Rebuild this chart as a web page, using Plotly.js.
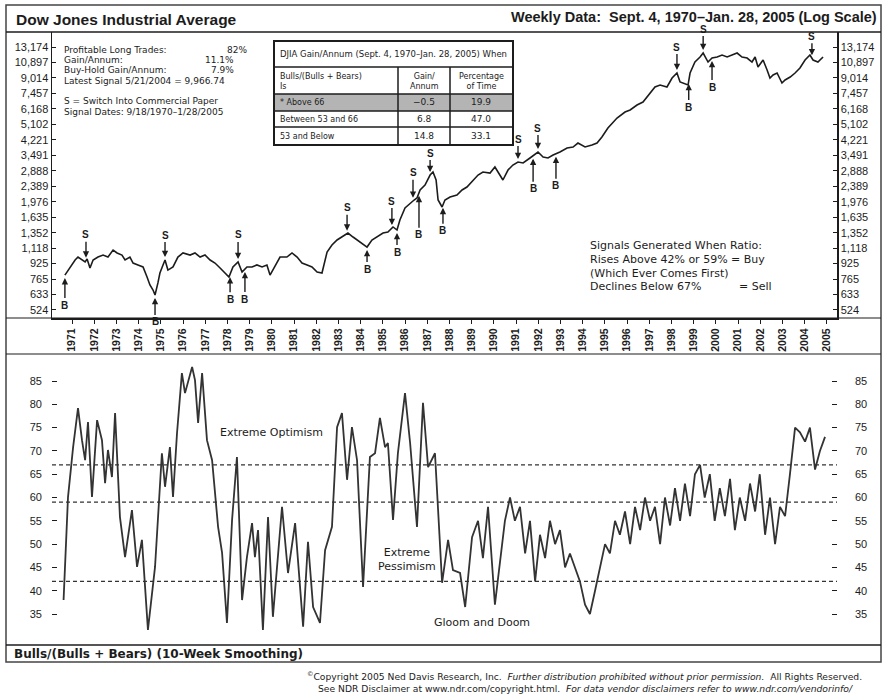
<!DOCTYPE html>
<html><head><meta charset="utf-8">
<script src="https://cdn.plot.ly/plotly-3.0.1.min.js"></script>
<style>html,body{margin:0;padding:0;background:#fff}#chart{width:885px;height:698px}</style>
</head><body><div id="chart"></div>
<script>
// ---------------- DATA ----------------
const djiaYears = [1970.68,1970.91,1971.14,1971.27,1971.45,1971.59,1971.68,1971.81,1971.95,1972.17,1972.40,1972.62,1972.85,1973.03,1973.25,1973.39,1973.61,1973.75,1973.97,1974.20,1974.38,1974.51,1974.65,1974.74,1974.87,1974.96,1975.10,1975.19,1975.32,1975.55,1975.77,1976.00,1976.32,1976.54,1976.77,1976.99,1977.22,1977.44,1977.67,1977.89,1978.07,1978.25,1978.48,1978.66,1978.88,1979.11,1979.33,1979.56,1979.78,1979.92,1980.14,1980.37,1980.68,1980.91,1981.14,1981.36,1981.59,1981.81,1982.04,1982.26,1982.49,1982.71,1982.94,1983.16,1983.43,1983.66,1983.97,1984.29,1984.51,1984.74,1985.01,1985.23,1985.46,1985.64,1985.77,1986.00,1986.23,1986.41,1986.54,1986.68,1986.90,1987.13,1987.26,1987.40,1987.49,1987.67,1987.80,1988.03,1988.34,1988.57,1988.79,1989.06,1989.29,1989.51,1989.83,1990.05,1990.28,1990.41,1990.64,1990.86,1991.09,1991.32,1991.63,1991.81,1991.99,1992.22,1992.44,1992.67,1992.98,1993.30,1993.57,1993.79,1994.11,1994.42,1994.65,1994.87,1995.14,1995.55,1995.91,1996.14,1996.45,1996.72,1997.04,1997.26,1997.49,1997.80,1998.03,1998.25,1998.39,1998.75,1998.84,1999.06,1999.29,1999.43,1999.65,1999.83,2000.06,2000.28,2000.51,2000.73,2000.96,2001.18,2001.41,2001.63,2001.77,2001.90,2002.13,2002.31,2002.44,2002.58,2002.76,2002.98,2003.12,2003.35,2003.57,2003.79,2004.02,2004.24,2004.38,2004.60,2004.83];
const djiaValues = [804,888,967,1003,967,944,979,877,967,1003,1028,1003,1093,1054,1028,967,1003,932,910,888,785,712,669,630,730,825,910,967,855,888,1003,1054,1028,1054,1003,1028,967,932,877,825,785,888,944,835,888,888,910,888,910,804,888,1003,1003,1054,1003,932,910,888,835,825,1067,1162,1236,1282,1346,1282,1206,1134,1236,1282,1346,1363,1450,1397,1579,1830,1945,2018,2068,2282,2426,2742,2845,2579,2018,1852,2018,2094,2146,2282,2367,2579,2742,2845,2810,3025,2742,2579,2915,3099,3216,3177,3378,3504,3636,3420,3378,3504,3636,3819,3866,4059,3866,3961,4059,4369,4880,5513,5937,6084,6469,6712,7495,8066,8265,8066,9007,9577,8577,8265,9577,10960,11652,12239,10960,11510,11652,11942,11652,11942,12239,11652,11510,10960,11652,10308,11233,9936,9007,9346,9577,8472,8790,9120,9577,10183,11233,11942,11233,10960,11652];

const ratioYears = [1970.62,1970.82,1971.05,1971.27,1971.45,1971.59,1971.72,1971.90,1972.13,1972.35,1972.49,1972.62,1972.80,1972.94,1973.16,1973.39,1973.70,1973.93,1974.15,1974.42,1974.74,1975.05,1975.19,1975.41,1975.55,1975.73,1975.95,1976.09,1976.41,1976.54,1976.68,1976.86,1977.08,1977.31,1977.58,1977.76,1977.98,1978.21,1978.43,1978.66,1978.88,1979.11,1979.24,1979.38,1979.60,1979.83,1980.05,1980.46,1980.73,1981.05,1981.41,1981.63,1981.86,1982.17,1982.40,1982.71,1982.94,1983.16,1983.39,1983.61,1983.84,1984.11,1984.42,1984.65,1984.87,1985.10,1985.23,1985.46,1985.68,1986.00,1986.23,1986.54,1986.81,1987.04,1987.35,1987.67,1987.94,1988.16,1988.48,1988.71,1989.02,1989.29,1989.51,1989.74,1990.05,1990.50,1990.73,1990.95,1991.18,1991.41,1991.63,1991.86,1992.08,1992.31,1992.53,1992.76,1992.98,1993.21,1993.43,1993.66,1993.88,1994.11,1994.33,1994.56,1994.78,1995.01,1995.23,1995.46,1995.68,1995.91,1996.14,1996.36,1996.59,1996.81,1997.04,1997.26,1997.49,1997.71,1997.94,1998.16,1998.39,1998.61,1998.84,1999.06,1999.29,1999.50,1999.73,1999.95,2000.18,2000.41,2000.64,2000.86,2001.08,2001.32,2001.54,2001.77,2001.98,2002.22,2002.44,2002.67,2002.89,2003.12,2003.34,2003.57,2003.79,2004.02,2004.24,2004.47,2004.69,2004.92];
const ratioValues = [38.0,60.1,70.8,79.2,72.3,68.0,76.2,60.1,76.6,72.3,63.1,70.2,64.4,78.1,55.8,47.2,57.3,45.1,50.9,31.6,45.1,69.5,62.3,70.8,60.1,73.8,86.7,82.4,88.0,85.2,76.0,86.7,72.3,68.0,53.7,48.1,33.1,55.2,68.7,38.0,47.2,54.5,47.2,53.0,31.6,55.8,34.4,58.0,43.8,54.5,32.3,50.5,36.5,33.1,48.7,53.7,75.1,78.1,63.8,75.1,68.0,40.8,68.7,69.5,77.1,70.8,71.7,55.2,69.5,82.4,71.7,53.7,80.3,66.5,69.5,41.7,50.9,44.4,43.8,36.5,51.5,55,47,58,37,55,60,55,58,48,55,42,52,47,55,50,53,45,48,45,42,37,35,40,45,50,48,55,52,57,50,58,53,60,55,58,50,60,54,62,55,63,56,65,67,60,65,55,62,56,64,53,60,55,63,57,65,52,60,50,58,56,65,75,74,72,75,66,70,73];

const signalYears = [1970.68,1971.63,1974.74,1975.19,1978.12,1978.48,1978.79,1983.39,1984.29,1985.41,1985.64,1986.36,1986.63,1987.13,1987.71,1991.09,1991.77,1991.99,1992.80,1998.25,1998.78,1999.43,1999.83,2004.33];
const signalTypes = ['B','S','B','S','B','S','B','S','B','S','B','S','B','S','B','S','B','S','B','S','B','S','B','S'];

const yearTicks = [];
for (let y = 1971; y <= 2005; y++) yearTicks.push(y);
const djiaTickVals = [524,633,765,925,1118,1352,1635,1976,2389,2888,3491,4221,5102,6168,7457,9014,10897,13174];
const ratioTickVals = [35,40,45,50,55,60,65,70,75,80,85];
const ratioThresholds = [67,59,42];

const statLabels = ['Profitable Long Trades:','Gain/Annum:','Buy-Hold Gain/Annum:','Latest Signal 5/21/2004 = 9,966.74'];
const statValues = ['82%','11.1%','7.9%',''];
const tableTitle = 'DJIA Gain/Annum (Sept. 4, 1970\u2013Jan. 28, 2005) When';
const tableHeader = ['Bulls/(Bulls + Bears)<br>Is','Gain/<br>Annum','Percentage<br>of Time'];
const tableRowLabels = ['* Above 66','Between 53 and 66','53 and Below'];
const tableGain = ['\u22120.5','6.8','14.8'];
const tablePct = ['19.9','47.0','33.1'];

// ---------------- STYLE / LAYOUT ----------------
const signalArrowLen = [30,26,27,25,25,27,30,26,22,27,22,28,42,22,26,23,33,24,32,26,26,24,29,22];
const W = 885, H = 698;
const P = x => x / W;
const Q = y => 1 - y / H;
const INK = '#1c1c1c';
const FONT = 'Liberation Sans, Arial, sans-serif';
const DV = 'DejaVu Sans, Liberation Sans, sans-serif';
const XR = [1970.099, 2005.459];

function logAt(year) {
  const n = djiaYears.length;
  if (year <= djiaYears[0]) return Math.log10(djiaValues[0]);
  if (year >= djiaYears[n-1]) return Math.log10(djiaValues[n-1]);
  for (let i = 0; i < n - 1; i++) {
    if (year >= djiaYears[i] && year <= djiaYears[i+1]) {
      const t = (year - djiaYears[i]) / (djiaYears[i+1] - djiaYears[i]);
      return Math.log10(djiaValues[i]) * (1 - t) + Math.log10(djiaValues[i+1]) * t;
    }
  }
}

const traces = [
  {x: djiaYears, y: djiaValues, xaxis:'x', yaxis:'y', mode:'lines', line:{color:INK, width:1.6}, hoverinfo:'skip'},
  {x: djiaYears, y: djiaValues, xaxis:'x', yaxis:'y3', mode:'lines', line:{color:INK, width:1.6}, opacity:0, hoverinfo:'skip'},
  {x: ratioYears, y: ratioValues, xaxis:'x2', yaxis:'y2', mode:'lines', line:{color:'#333', width:1.8}, hoverinfo:'skip'},
  {x: ratioYears, y: ratioValues, xaxis:'x2', yaxis:'y4', mode:'lines', line:{color:'#333', width:1.8}, opacity:0, hoverinfo:'skip'}
];

const tickFont = {family: FONT, size: 11, color: INK};
const djiaTickText = djiaTickVals.map(v => v.toLocaleString('en-US'));
const yTop = {domain:[Q(318), Q(32)], type:'log', range:[2.6767, 4.1996], tickmode:'array', tickvals:djiaTickVals, ticktext:djiaTickText,
  ticks:'inside', ticklen:4, tickcolor:INK, showline:true, linewidth:1.5, linecolor:INK, showgrid:false, zeroline:false, tickfont:tickFont, fixedrange:true};
const yBot = {domain:[Q(645), Q(355)], range:[28.35, 90.58], tickmode:'array', tickvals:ratioTickVals, ticklabelstandoff:9,
  ticks:'inside', ticklen:5, tickcolor:INK, showline:false, showgrid:false, zeroline:false, tickfont:tickFont, fixedrange:true};

const shapes = [];
const line = (x0,y0,x1,y1,w,c,dash) => shapes.push({type:'line', xref:'paper', yref:'paper', x0:P(x0), y0:Q(y0), x1:P(x1), y1:Q(y1), line:{color:c||INK, width:w||1.5, dash:dash||'solid'}});
// frame
shapes.push({type:'rect', xref:'paper', yref:'paper', x0:P(6), y0:Q(662), x1:P(881), y1:Q(5), line:{color:'#444', width:1.5}});
line(6,32,881,32,1.5);
line(6,318,881,318,1.2);
line(6,354,881,354,1.2);
line(6,645,881,645,1.5);
// thresholds
ratioThresholds.forEach(t => shapes.push({type:'line', xref:'x2 domain', yref:'y2', x0:0, x1:1, y0:t, y1:t, line:{color:'#333', width:1.2, dash:'4px,3px'}}));
// table
shapes.push({type:'rect', xref:'paper', yref:'paper', x0:P(274), y0:Q(111), x1:P(513), y1:Q(94), fillcolor:'#b4b4b4', line:{width:0}});
shapes.push({type:'rect', xref:'paper', yref:'paper', x0:P(274), y0:Q(145), x1:P(513), y1:Q(41), line:{color:INK, width:2}});
[67,94,111,127].forEach(y => line(274,y,513,y,1.5));
[398,450].forEach(x => line(x,67,x,145,1.5));

const annotations = [];
const txt = (x, y, text, opts) => annotations.push(Object.assign({xref:'paper', yref:'paper', x:P(x), y:Q(y), text:text, showarrow:false,
  xanchor:'left', yanchor:'middle', font:{family:FONT, size:10, color:INK}}, opts||{}));

txt(14, 19, '<b>Dow Jones Industrial Average</b>', {font:{family:FONT, size:15.5, color:INK}});
txt(879, 17, '<b>Weekly Data:  Sept. 4, 1970\u2013Jan. 28, 2005 (Log Scale)</b>', {xanchor:'right', font:{family:FONT, size:14.5, color:INK}});

const sf = {family:DV, size:9, color:INK};
const statY = [49.5,60,70.5,81];
const statRight = [249,236,236,0];
statLabels.forEach((s,i) => {
  txt(62, statY[i], s, {font:sf});
  if (statValues[i]) txt(statRight[i], statY[i], statValues[i], {xanchor:'right', font:sf});
});
txt(62, 101, 'S = Switch Into Commercial Paper', {font:sf});
txt(62, 112, 'Signal Dates: 9/18/1970\u20131/28/2005', {font:sf});

// table texts
const tf = {family:DV, size:8, color:INK};
txt(278, 54, tableTitle, {font:{family:DV, size:8.5, color:INK}});
txt(278, 81, tableHeader[0], {font:tf, align:'left'});
txt(424, 81, tableHeader[1], {font:tf, xanchor:'center', align:'center'});
txt(481, 81, tableHeader[2], {font:tf, xanchor:'center', align:'center'});
const rowY = [102.5, 119, 136];
tableRowLabels.forEach((s,i) => {
  txt(278, rowY[i], s, {font:tf});
  txt(424, rowY[i], tableGain[i], {font:{family:DV, size:9, color:INK}, xanchor:'center'});
  txt(481, rowY[i], tablePct[i], {font:{family:DV, size:9, color:INK}, xanchor:'center'});
});

// right text block
const rf = {family:DV, size:11, color:INK};
txt(588, 245, 'Signals Generated When Ratio:', {font:rf});
txt(588, 259, 'Rises Above 42% or 59% = Buy', {font:rf});
txt(588, 273, '(Which Ever Comes First)', {font:rf});
txt(588, 287, 'Declines Below 67%', {font:rf});
txt(737, 287, '= Sell', {font:rf});

// bottom panel texts
txt(271, 432, 'Extreme Optimism', {xanchor:'center', font:rf});
txt(407, 559, 'Extreme<br>Pessimism', {xanchor:'center', align:'center', font:rf});
txt(482, 622, 'Gloom and Doom', {xanchor:'center', font:rf});

txt(12, 654, '<b>Bulls/(Bulls + Bears) (10-Week Smoothing)</b>', {font:{family:DV, size:12, color:INK}});

const ff = {family:DV, size:9.2, color:INK};
txt(305, 676, '<sup>\u00a9</sup>Copyright 2005 Ned Davis Research, Inc.  <i>Further distribution prohibited without prior permission.</i>  All Rights Reserved.', {font:ff});
txt(316, 688, 'See NDR Disclaimer at www.ndr.com/copyright.html.  <i>For data vendor disclaimers refer to www.ndr.com/vendorinfo/</i>', {font:ff});

// signal arrows
signalYears.forEach((yr, i) => {
  const sell = signalTypes[i] === 'S';
  annotations.push({xref:'x', yref:'y', x:yr, y:logAt(yr), text:'<b>' + signalTypes[i] + '</b>', showarrow:true,
    arrowhead:2, arrowsize:0.9, arrowwidth:1.4, arrowcolor:INK, standoff:3, ax:0, ay:(sell ? -1 : 1) * signalArrowLen[i],
    font:{family:FONT, size:10, color:INK}});
});

const layout = {
  width:W, height:H, margin:{l:0, r:0, t:0, b:0}, paper_bgcolor:'#fff', plot_bgcolor:'rgba(0,0,0,0)',
  showlegend:false, font:{family:FONT, color:INK},
  xaxis:{domain:[P(52), P(837)], range:XR, anchor:'y', tickmode:'array', tickvals:yearTicks, ticktext:yearTicks.map(String), tickangle:-90,
    ticks:'outside', ticklen:4, tickcolor:INK, tickfont:{family:FONT, size:10.5, color:INK, weight:'bold'},
    showline:true, linewidth:2.2, linecolor:INK, showgrid:false, zeroline:false, fixedrange:true},
  yaxis: yTop,
  yaxis3: Object.assign({}, yTop, {overlaying:'y', side:'right', anchor:'x'}),
  xaxis2:{domain:[P(52), P(837)], range:XR, anchor:'y2', showticklabels:false, ticks:'', showline:false, showgrid:false, zeroline:false, fixedrange:true},
  yaxis2: Object.assign({}, yBot, {anchor:'x2'}),
  yaxis4: Object.assign({}, yBot, {overlaying:'y2', side:'right', anchor:'x2', ticklabelstandoff:17}),
  shapes: shapes,
  annotations: annotations
};

Plotly.newPlot('chart', traces, layout, {staticPlot:true, displayModeBar:false});
</script>
</body></html>
